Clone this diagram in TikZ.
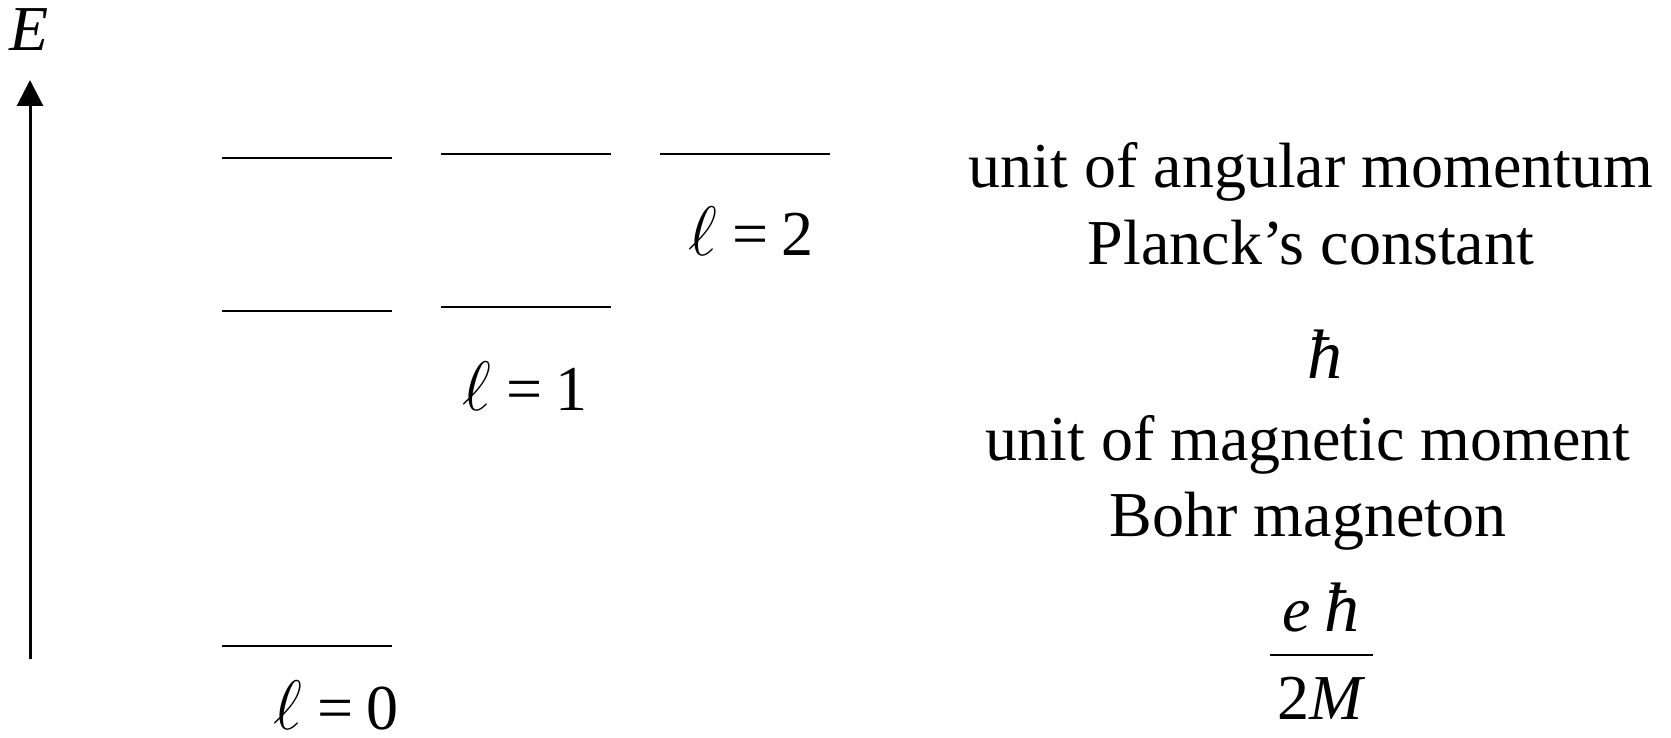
\documentclass[tikz,border=0pt]{standalone}
\usepackage{fix-cm}
\usepackage{fontspec}
\setmainfont{Liberation Serif}
\usetikzlibrary{arrows.meta}
\newcommand{\bigell}{{\fontsize{35}{40}\selectfont$\ell$}}
\begin{document}
\begin{tikzpicture}[x=0.5pt,y=-0.5pt,
  level/.style={line width=1pt},
  bigtxt/.style={font=\fontsize{32}{38}\selectfont, anchor=base, inner sep=0pt},
  symtxt/.style={font=\fontsize{32}{36}\selectfont, anchor=base, inner sep=0pt},
  hbtxt/.style={font=\fontsize{35}{40}\selectfont\itshape, anchor=base, inner sep=0pt},
]
\useasboundingbox (0,0) rectangle (1671,738);
% energy axis
\coordinate (eb) at (30,659);
\coordinate (et) at (30,80);
\draw[line width=1.5pt,-{Triangle[length=13pt,width=13pt]}] (eb) -- (et);
\node[symtxt] (E) at (29,51) {\itshape E};
% levels, column l=0
\coordinate (a1l) at (222,158); \coordinate (a1r) at (392,158);
\coordinate (a2l) at (222,311); \coordinate (a2r) at (392,311);
\coordinate (a3l) at (222,646); \coordinate (a3r) at (392,646);
\draw[level] (a1l) -- (a1r);
\draw[level] (a2l) -- (a2r);
\draw[level] (a3l) -- (a3r);
% column l=1
\coordinate (b1l) at (441,154.5); \coordinate (b1r) at (611,154.5);
\coordinate (b2l) at (441,307); \coordinate (b2r) at (611,307);
\draw[level] (b1l) -- (b1r);
\draw[level] (b2l) -- (b2r);
% column l=2
\coordinate (c1l) at (660,154.5); \coordinate (c1r) at (830,154.5);
\draw[level] (c1l) -- (c1r);
% labels
\node[symtxt] (l2) at (751,255) {\bigell\hspace{0.25em}=\hspace{0.2em}2};
\node[symtxt] (l1) at (525,410) {\bigell\hspace{0.25em}=\hspace{0.2em}1};
\node[symtxt] (l0) at (336,729) {\bigell\hspace{0.25em}=\hspace{0.2em}0};
% right-hand text
\node[bigtxt] (t1) at (1311,187.6) {unit of angular momentum};
\node[bigtxt] (t2) at (1311,264) {Planck's constant};
\node[hbtxt] (hb) at (1325,378) {ħ};
\node[bigtxt] (t4) at (1308,460) {unit of magnetic moment};
\node[bigtxt] (t5) at (1308,536) {Bohr magneton};
\node[symtxt] (num) at (1321,631) {\itshape e\hspace{0.2em}{\fontsize{35}{40}\selectfont ħ}};
\coordinate (fl) at (1270,655);
\coordinate (fr) at (1373,655);
\draw[line width=1.3pt] (fl) -- (fr);
\node[symtxt] (den) at (1320,719) {2\itshape M};
\end{tikzpicture}
\end{document}
